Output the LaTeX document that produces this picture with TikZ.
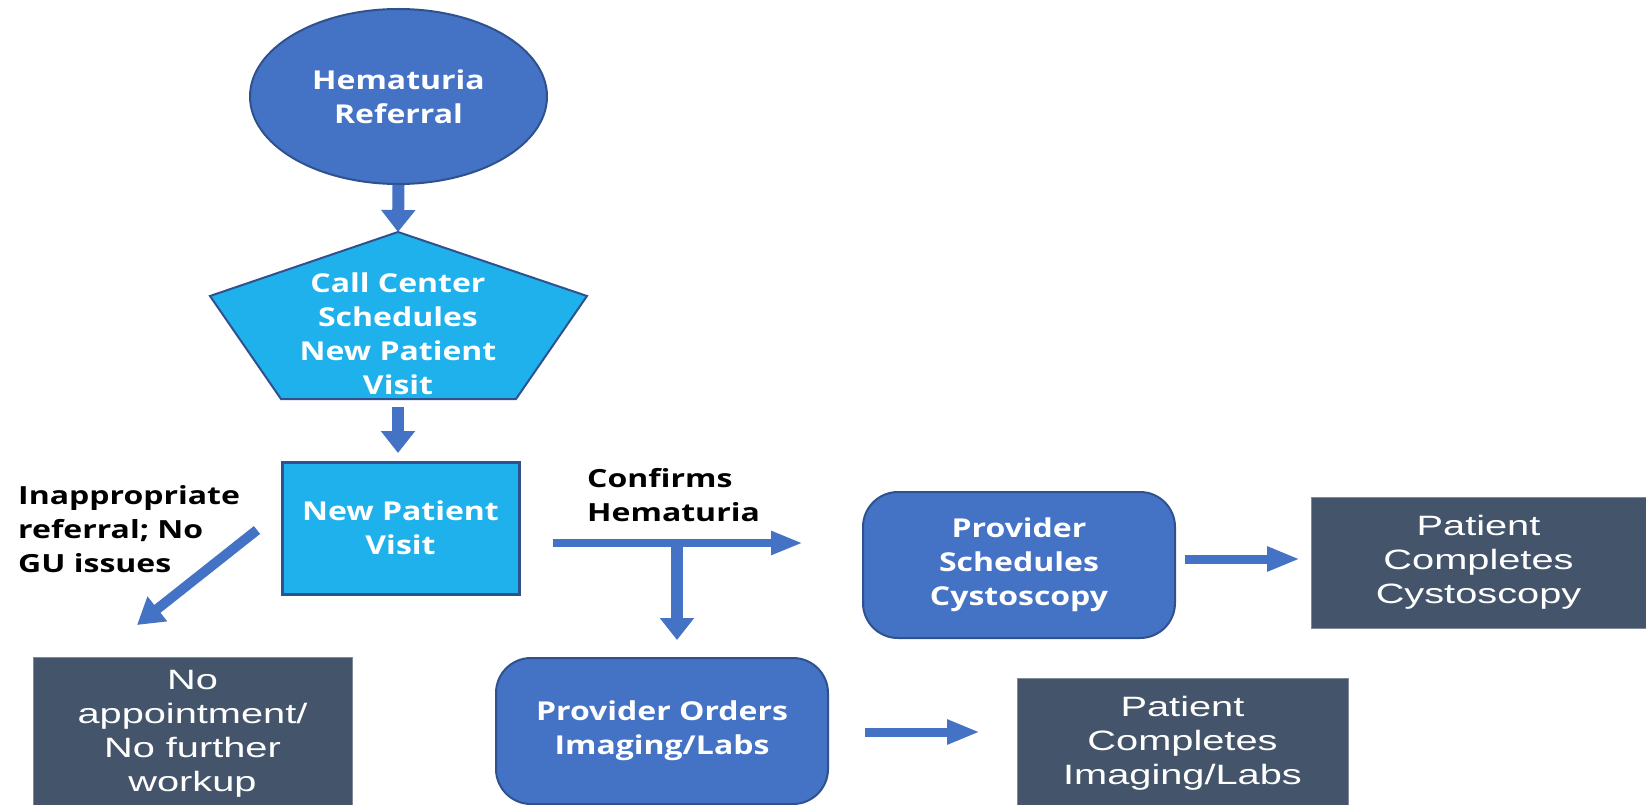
\documentclass[tikz,border=0pt]{standalone}
\usepackage{fontspec}
\setmainfont{Open Sans}
\newfontfamily\bluefont[FakeStretch=1.23]{Open Sans}
\newfontfamily\lblfont[FakeStretch=1.28]{Open Sans}
\newfontfamily\darkfont[FakeStretch=1.42]{Liberation Sans}
\usetikzlibrary{arrows.meta,shapes.geometric}
\definecolor{cblue}{HTML}{4472C4}
\definecolor{cborder}{HTML}{2F528F}
\definecolor{clight}{HTML}{1FB1EC}
\definecolor{cdark}{HTML}{44546A}
\definecolor{cdarkedge}{HTML}{7E8A99}
\tikzset{
  bluetxt/.style={font={\bluefont\bfseries\fontsize{26}{34}\selectfont}, text=white, align=center},
  darktxt/.style={font={\darkfont\fontsize{28}{34}\selectfont}, text=white, align=center},
  lbltxt/.style={font={\lblfont\bfseries\fontsize{25}{34}\selectfont}, text=black, align=left, inner sep=0pt},
  roundbox/.style={bluetxt, draw=cborder, line width=2pt, fill=cblue, rounded corners=35pt, minimum width=312pt, minimum height=146pt, inner sep=0pt},
  darkbox/.style={darktxt, draw=cdarkedge, line width=1pt, fill=cdark, inner sep=0pt},
  varrow/.style={draw=cblue, line width=12pt, -{Triangle[width=33pt,length=22pt]}},
  harrow/.style={draw=cblue, line width=9pt, -{Triangle[width=23pt,length=33pt]}},
  darrow/.style={draw=cblue, line width=10pt, -{Triangle[width=30pt,length=26pt]}},
}
\begin{document}
\begin{tikzpicture}[x=1pt,y=-1pt]
\useasboundingbox (0,0) rectangle (1646,805);
\fill[white] (0,0) rectangle (1646,805);

% Start ellipse
\node[ellipse, draw=cborder, line width=2pt, fill=cblue, minimum width=297pt, minimum height=175pt, inner sep=0pt, bluetxt] (ref) at (398.5,96.5) {Hematuria\\Referral};

% Pentagon
\coordinate (pT) at (398,232);
\coordinate (pR) at (587,296);
\coordinate (pBR) at (516,399);
\coordinate (pBL) at (281,399);
\coordinate (pL) at (210,296);
\draw[draw=cborder, line width=2pt, fill=clight] (pT) -- (pR) -- (pBR) -- (pBL) -- (pL) -- cycle;
\node[bluetxt, inner sep=0pt] (call) at (398,334) {Call Center\\Schedules\\New Patient\\Visit};

% New patient visit
\node[rectangle, draw=cborder, line width=3pt, fill=clight, minimum width=237pt, minimum height=132pt, inner sep=0pt, bluetxt] (npv) at (400.5,528) {New Patient\\Visit};

% Labels
\node[lbltxt, anchor=north west] (inapp) at (18,485) {Inappropriate\\referral; No\\GU issues};
\node[lbltxt, anchor=north west] (conf) at (587,468) {Confirms\\Hematuria};

% Provider boxes
\node[roundbox] (ps) at (1019,565) {Provider\\Schedules\\Cystoscopy};
\node[roundbox, minimum width=332pt] (po) at (662,731) {Provider Orders\\Imaging/Labs};

% Dark boxes
\node[darkbox, minimum width=335pt, minimum height=131pt] (pcc) at (1478.5,562.5) {Patient\\Completes\\Cystoscopy};
\node[darkbox, minimum width=331pt, minimum height=131pt] (pci) at (1182.5,743.5) {Patient\\Completes\\Imaging/Labs};
\node[darkbox, minimum width=319pt, minimum height=154pt] (na) at (192.5,734) {No\\appointment/\\No further\\workup};

% Connector end points
\coordinate (p2) at (398,407);
\coordinate (p2e) at (398,453);
\coordinate (dS) at (257,530);
\coordinate (dE) at (137,625);
\coordinate (hS) at (553,543);
\coordinate (hE) at (803,543);
\coordinate (brS) at (677,543);
\coordinate (brE) at (677,640);
\coordinate (a3S) at (1185,559);
\coordinate (a3E) at (1300,559);
\coordinate (a4S) at (865,732);
\coordinate (a4E) at (980,732);

% Arrows
\draw[varrow] (ref.south) -- (pT);
\draw[varrow] (p2) -- (p2e);
\draw[darrow] (dS) -- (dE);
\draw[draw=cblue, line width=8pt, -{Triangle[width=22pt,length=32pt]}] (hS) -- (hE);
\draw[varrow] ([yshift=4pt]brS) -- (brE);
\draw[harrow] (a3S) -- (a3E);
\draw[harrow] (a4S) -- (a4E);
\end{tikzpicture}
\end{document}
